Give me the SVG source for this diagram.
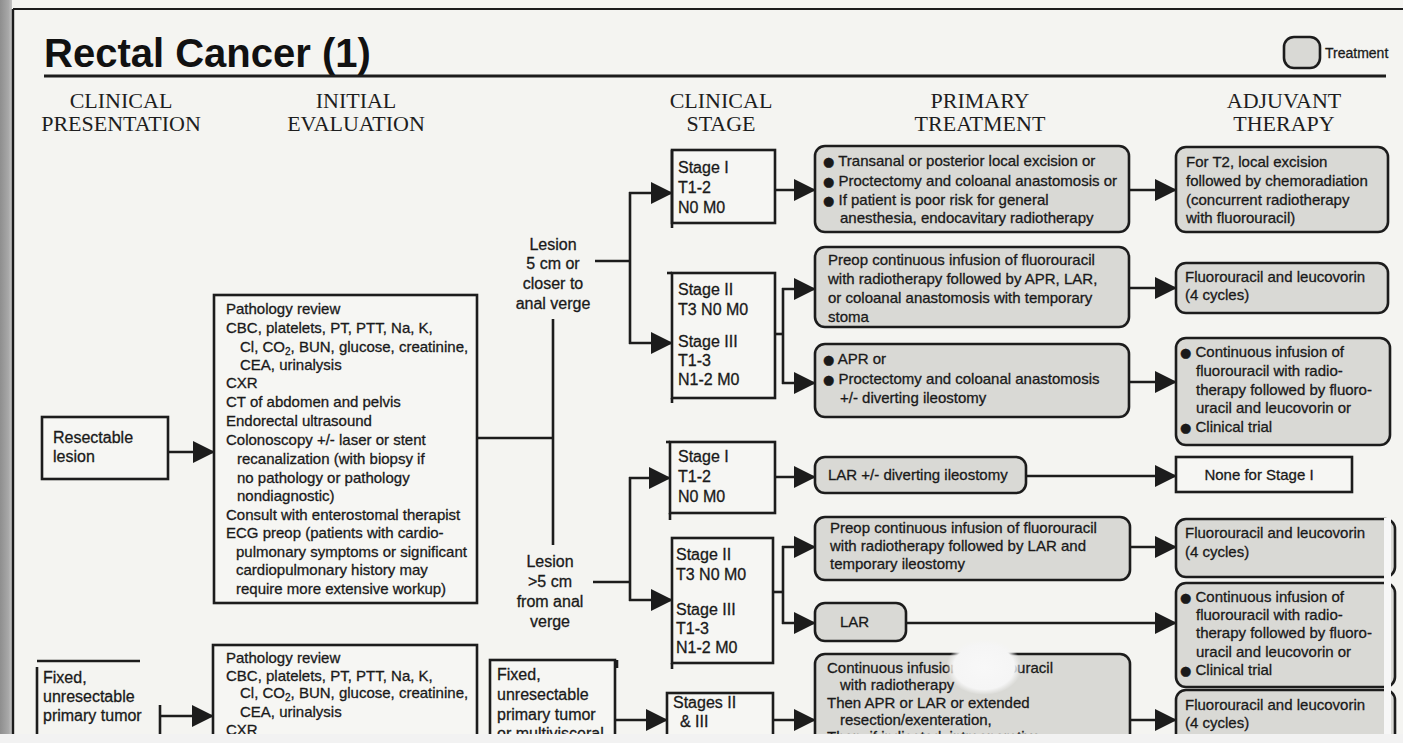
<svg xmlns="http://www.w3.org/2000/svg" width="1403" height="743" viewBox="0 0 1403 743">
<defs>
<style>
.bg{fill:#f4f4f1}
.sq{fill:#f6f6f3;stroke:#1c1c1c;stroke-width:2.6}
.rt{fill:#d9d9d5;stroke:#1c1c1c;stroke-width:2.6}
.ln{fill:none;stroke:#1c1c1c;stroke-width:2.6}
.ar{fill:none;stroke:#1c1c1c;stroke-width:2.6;marker-end:url(#ah)}
.s15{font-family:"Liberation Sans",Arial,sans-serif;font-size:15px;fill:#1a1a1a;stroke:#1a1a1a;stroke-width:0.3}
.s16{font-family:"Liberation Sans",Arial,sans-serif;font-size:16px;fill:#1a1a1a;stroke:#1a1a1a;stroke-width:0.3}
.c16{font-family:"Liberation Sans",Arial,sans-serif;font-size:16px;fill:#1a1a1a;stroke:#1a1a1a;stroke-width:0.3;text-anchor:middle}
.hd{font-family:"Liberation Serif","Times New Roman",serif;font-size:22px;fill:#1e1e1e;text-anchor:middle}
.b{font-family:"DejaVu Sans",sans-serif;font-size:13px}
.sub{font-size:10px}
</style>
<marker id="ah" viewBox="0 0 22 22" refX="21" refY="11" markerWidth="22" markerHeight="22" markerUnits="userSpaceOnUse" orient="auto">
<path d="M0,0 L22,11 L0,22 z" fill="#1c1c1c"/>
</marker>
<linearGradient id="strip" x1="0" y1="0" x2="1" y2="0">
<stop offset="0" stop-color="#8e8e8e"/>
<stop offset="0.7" stop-color="#a8a8a8"/>
<stop offset="1" stop-color="#c4c4c4"/>
</linearGradient>
<radialGradient id="blob">
<stop offset="0" stop-color="#f8f8f8"/>
<stop offset="0.8" stop-color="#f5f5f5"/>
<stop offset="1" stop-color="#f4f4f4" stop-opacity="0"/>
</radialGradient>
</defs>

<rect class="bg" x="0" y="0" width="1403" height="743"/>
<rect x="0" y="0" width="12" height="743" fill="url(#strip)"/>
<line x1="13" y1="9" x2="1403" y2="9" stroke="#1c1c1c" stroke-width="2.2"/>
<line x1="13" y1="9" x2="13" y2="743" stroke="#1c1c1c" stroke-width="2.4"/>

<g id="title">
<text x="44" y="67" font-family="'Liberation Sans',Arial,sans-serif" font-size="40" font-weight="bold" fill="#111">Rectal Cancer (1)</text>
<line x1="44" y1="76" x2="1386" y2="76" stroke="#1c1c1c" stroke-width="3"/>
</g>

<g id="legend">
<rect class="rt" x="1284" y="37" width="36" height="31" rx="10"/>
<text x="1325" y="58" font-family="'Liberation Sans',Arial,sans-serif" font-size="14" fill="#1a1a1a" stroke="#1a1a1a" stroke-width="0.3">Treatment</text>
</g>

<g id="headers">
<text class="hd" x="121" y="108">CLINICAL</text>
<text class="hd" x="121" y="131">PRESENTATION</text>
<text class="hd" x="356" y="108">INITIAL</text>
<text class="hd" x="356" y="131">EVALUATION</text>
<text class="hd" x="721" y="108">CLINICAL</text>
<text class="hd" x="721" y="131">STAGE</text>
<text class="hd" x="980" y="108">PRIMARY</text>
<text class="hd" x="980" y="131">TREATMENT</text>
<text class="hd" x="1284" y="108">ADJUVANT</text>
<text class="hd" x="1284" y="131">THERAPY</text>
</g>

<g id="connectors">
<line class="ar" x1="168" y1="452" x2="214" y2="452"/>
<polyline class="ln" points="477,438 553,438"/>
<line class="ln" x1="553" y1="319" x2="553" y2="545"/>
<line class="ln" x1="595" y1="261" x2="630" y2="261"/>
<line class="ln" x1="630" y1="192" x2="630" y2="344"/>
<line class="ar" x1="629" y1="193" x2="672" y2="193"/>
<line class="ar" x1="629" y1="343" x2="672" y2="343"/>
<line class="ln" x1="593" y1="582" x2="630" y2="582"/>
<line class="ln" x1="630" y1="477" x2="630" y2="601"/>
<line class="ar" x1="629" y1="478" x2="670" y2="478"/>
<line class="ar" x1="629" y1="600" x2="672" y2="600"/>
<line class="ar" x1="775" y1="190" x2="815" y2="190"/>
<polyline class="ln" points="775,334 783,334"/>
<line class="ln" x1="783" y1="288" x2="783" y2="384"/>
<line class="ar" x1="782" y1="289" x2="815" y2="289"/>
<line class="ar" x1="782" y1="383" x2="815" y2="383"/>
<line class="ar" x1="775" y1="477" x2="815" y2="477"/>
<polyline class="ln" points="773,592 783,592"/>
<line class="ln" x1="783" y1="546" x2="783" y2="624"/>
<line class="ar" x1="782" y1="547" x2="815" y2="547"/>
<line class="ar" x1="782" y1="623" x2="815" y2="623"/>
<line class="ar" x1="773" y1="720" x2="815" y2="720"/>
<line class="ar" x1="615" y1="720" x2="667" y2="720"/>
<line class="ar" x1="1129" y1="190" x2="1176" y2="190"/>
<line class="ar" x1="1129" y1="288" x2="1176" y2="288"/>
<line class="ar" x1="1129" y1="382" x2="1176" y2="382"/>
<line class="ar" x1="1026" y1="476" x2="1176" y2="476"/>
<line class="ar" x1="1130" y1="547" x2="1176" y2="547"/>
<line class="ar" x1="906" y1="623" x2="1176" y2="623"/>
<line class="ar" x1="1130" y1="720" x2="1176" y2="720"/>
<line class="ln" x1="160" y1="705" x2="160" y2="743"/>
<line class="ar" x1="160" y1="716" x2="213" y2="716"/>
</g>

<g id="resectable">
<rect class="sq" x="42" y="417" width="126" height="62"/>
<text class="s16" x="53" y="443">Resectable</text>
<text class="s16" x="53" y="462">lesion</text>
</g>

<g id="eval1">
<rect class="sq" x="214" y="295" width="263" height="308"/>
<text class="s15" x="226" y="314">Pathology review</text>
<text class="s15" x="226" y="333">CBC, platelets, PT, PTT, Na, K,</text>
<text class="s15" x="240" y="352">Cl, CO<tspan class="sub" dy="3">2</tspan><tspan dy="-3">, BUN, glucose, creatinine,</tspan></text>
<text class="s15" x="240" y="370">CEA, urinalysis</text>
<text class="s15" x="226" y="388">CXR</text>
<text class="s15" x="226" y="407">CT of abdomen and pelvis</text>
<text class="s15" x="226" y="426">Endorectal ultrasound</text>
<text class="s15" x="226" y="445">Colonoscopy +/- laser or stent</text>
<text class="s15" x="237" y="464">recanalization (with biopsy if</text>
<text class="s15" x="237" y="483">no pathology or pathology</text>
<text class="s15" x="237" y="501">nondiagnostic)</text>
<text class="s15" x="226" y="520">Consult with enterostomal therapist</text>
<text class="s15" x="226" y="538">ECG preop (patients with cardio-</text>
<text class="s15" x="236" y="557">pulmonary symptoms or significant</text>
<text class="s15" x="236" y="575">cardiopulmonary history may</text>
<text class="s15" x="236" y="594">require more extensive workup)</text>
</g>

<g id="lesion-near">
<text class="c16" x="553" y="250">Lesion</text>
<text class="c16" x="553" y="269">5 cm or</text>
<text class="c16" x="553" y="289">closer to</text>
<text class="c16" x="553" y="309">anal verge</text>
</g>

<g id="lesion-far">
<text class="c16" x="550" y="567">Lesion</text>
<text class="c16" x="550" y="587">&gt;5 cm</text>
<text class="c16" x="550" y="607">from anal</text>
<text class="c16" x="550" y="627">verge</text>
</g>

<g id="stage1a">
<rect class="sq" x="672" y="150" width="103" height="73"/>
<line class="ln" x1="672" y1="150" x2="672" y2="228"/>
<text class="s16" x="678" y="173">Stage I</text>
<text class="s16" x="678" y="193">T1-2</text>
<text class="s16" x="678" y="213">N0 M0</text>
</g>

<g id="stage23a">
<rect class="sq" x="672" y="273" width="103" height="125"/>
<line class="ln" x1="667" y1="273" x2="672" y2="273"/>
<line class="ln" x1="672" y1="398" x2="672" y2="403"/>
<text class="s16" x="678" y="295">Stage II</text>
<text class="s16" x="678" y="315">T3 N0 M0</text>
<text class="s16" x="678" y="347">Stage III</text>
<text class="s16" x="678" y="366">T1-3</text>
<text class="s16" x="678" y="385">N1-2 M0</text>
</g>

<g id="stage1b">
<rect class="sq" x="670" y="442" width="105" height="71"/>
<line class="ln" x1="666" y1="442" x2="670" y2="442"/>
<line class="ln" x1="670" y1="513" x2="670" y2="520"/>
<text class="s16" x="678" y="462">Stage I</text>
<text class="s16" x="678" y="482">T1-2</text>
<text class="s16" x="678" y="502">N0 M0</text>
</g>

<g id="stage23b">
<rect class="sq" x="672" y="538" width="101" height="125"/>
<line class="ln" x1="672" y1="663" x2="672" y2="669"/>
<text class="s16" x="676" y="560">Stage II</text>
<text class="s16" x="676" y="580">T3 N0 M0</text>
<text class="s16" x="676" y="615">Stage III</text>
<text class="s16" x="676" y="634">T1-3</text>
<text class="s16" x="676" y="653">N1-2 M0</text>
</g>

<g id="fixed-mid">
<rect class="sq" x="490" y="660" width="125" height="100"/>
<line class="ln" x1="617" y1="660" x2="617" y2="668"/>
<text class="s16" x="497" y="680">Fixed,</text>
<text class="s16" x="497" y="700">unresectable</text>
<text class="s16" x="497" y="720">primary tumor</text>
<text class="s16" x="497" y="739">or multivisceral</text>
</g>

<g id="stage23c">
<rect class="sq" x="667" y="693" width="106" height="70"/>
<text class="s16" x="673" y="708">Stages II</text>
<text class="s16" x="680" y="727">&amp; III</text>
</g>

<g id="fixed-left">
<line class="ln" x1="37" y1="661" x2="140" y2="661"/>
<line class="ln" x1="37" y1="667" x2="37" y2="743"/>
<text class="s16" x="43" y="683">Fixed,</text>
<text class="s16" x="43" y="702">unresectable</text>
<text class="s16" x="43" y="721">primary tumor</text>
</g>

<g id="eval2">
<rect class="sq" x="213" y="645" width="264" height="120"/>
<text class="s15" x="226" y="663">Pathology review</text>
<text class="s15" x="226" y="681">CBC, platelets, PT, PTT, Na, K,</text>
<text class="s15" x="240" y="698">Cl, CO<tspan class="sub" dy="3">2</tspan><tspan dy="-3">, BUN, glucose, creatinine,</tspan></text>
<text class="s15" x="240" y="717">CEA, urinalysis</text>
<text class="s15" x="226" y="735">CXR</text>
</g>

<g id="treat1">
<rect class="rt" x="815" y="146" width="314" height="86" rx="10"/>
<text class="s15" x="823" y="166"><tspan class="b">●</tspan> Transanal or posterior local excision or</text>
<text class="s15" x="823" y="186"><tspan class="b">●</tspan> Proctectomy and coloanal anastomosis or</text>
<text class="s15" x="823" y="205"><tspan class="b">●</tspan> If patient is poor risk for general</text>
<text class="s15" x="840" y="223">anesthesia, endocavitary radiotherapy</text>
</g>

<g id="treat2">
<rect class="rt" x="815" y="247" width="314" height="80" rx="10"/>
<text class="s15" x="828" y="265">Preop continuous infusion of fluorouracil</text>
<text class="s15" x="828" y="284">with radiotherapy followed by APR, LAR,</text>
<text class="s15" x="828" y="303">or coloanal anastomosis with temporary</text>
<text class="s15" x="828" y="322">stoma</text>
</g>

<g id="treat3">
<rect class="rt" x="815" y="344" width="314" height="73" rx="10"/>
<text class="s15" x="823" y="364"><tspan class="b">●</tspan> APR or</text>
<text class="s15" x="823" y="384"><tspan class="b">●</tspan> Proctectomy and coloanal anastomosis</text>
<text class="s15" x="840" y="403">+/- diverting ileostomy</text>
</g>

<g id="treat4">
<rect class="rt" x="815" y="457" width="211" height="36" rx="10"/>
<text class="s15" x="828" y="480">LAR +/- diverting ileostomy</text>
</g>

<g id="treat5">
<rect class="rt" x="815" y="517" width="315" height="63" rx="10"/>
<text class="s15" x="830" y="533">Preop continuous infusion of fluorouracil</text>
<text class="s15" x="830" y="551">with radiotherapy followed by LAR and</text>
<text class="s15" x="830" y="569">temporary ileostomy</text>
</g>

<g id="treat6">
<rect class="rt" x="815" y="603" width="91" height="38" rx="10"/>
<text class="s15" x="840" y="627">LAR</text>
</g>

<g id="treat7">
<rect class="rt" x="815" y="654" width="315" height="110" rx="10"/>
<text class="s15" x="827" y="673">Continuous infusion of fluorouracil</text>
<text class="s15" x="840" y="690">with radiotherapy</text>
<text class="s15" x="827" y="708">Then APR or LAR or extended</text>
<text class="s15" x="840" y="725">resection/exenteration,</text>
<text class="s15" x="827" y="742">Then, if indicated, intraoperative</text>
</g>

<g id="adj1">
<rect class="rt" x="1176" y="147" width="212" height="85" rx="10"/>
<text class="s15" x="1186" y="167">For T2, local excision</text>
<text class="s15" x="1186" y="186">followed by chemoradiation</text>
<text class="s15" x="1186" y="205">(concurrent radiotherapy</text>
<text class="s15" x="1186" y="223">with fluorouracil)</text>
</g>

<g id="adj2">
<rect class="rt" x="1176" y="263" width="212" height="50" rx="10"/>
<text class="s15" x="1185" y="282">Fluorouracil and leucovorin</text>
<text class="s15" x="1185" y="300">(4 cycles)</text>
</g>

<g id="adj3">
<rect class="rt" x="1176" y="338" width="214" height="107" rx="10"/>
<text class="s15" x="1180" y="357"><tspan class="b">●</tspan> Continuous infusion of</text>
<text class="s15" x="1196" y="376">fluorouracil with radio-</text>
<text class="s15" x="1196" y="395">therapy followed by fluoro-</text>
<text class="s15" x="1196" y="413">uracil and leucovorin or</text>
<text class="s15" x="1180" y="432"><tspan class="b">●</tspan> Clinical trial</text>
</g>

<g id="adj-none">
<rect class="sq" x="1176" y="457" width="176" height="35"/>
<text class="s15" x="1259" y="480" text-anchor="middle">None for Stage I</text>
</g>

<g id="adj5">
<rect class="rt" x="1176" y="519" width="219" height="58" rx="10"/>
<text class="s15" x="1185" y="538">Fluorouracil and leucovorin</text>
<text class="s15" x="1185" y="557">(4 cycles)</text>
</g>

<g id="adj6">
<rect class="rt" x="1176" y="583" width="219" height="104" rx="10"/>
<text class="s15" x="1180" y="602"><tspan class="b">●</tspan> Continuous infusion of</text>
<text class="s15" x="1196" y="620">fluorouracil with radio-</text>
<text class="s15" x="1196" y="638">therapy followed by fluoro-</text>
<text class="s15" x="1196" y="657">uracil and leucovorin or</text>
<text class="s15" x="1180" y="675"><tspan class="b">●</tspan> Clinical trial</text>
</g>

<g id="adj7">
<rect class="rt" x="1176" y="690" width="219" height="70" rx="10"/>
<text class="s15" x="1185" y="710">Fluorouracil and leucovorin</text>
<text class="s15" x="1185" y="728">(4 cycles)</text>
</g>

<g id="scan-artifacts">
<ellipse cx="984" cy="667" rx="38" ry="28" fill="url(#blob)"/>
<rect x="1384" y="518" width="7" height="225" fill="#f7f7f7"/>
<rect x="0" y="734" width="1403" height="9" fill="#f2f2f2"/>
</g>
</svg>
